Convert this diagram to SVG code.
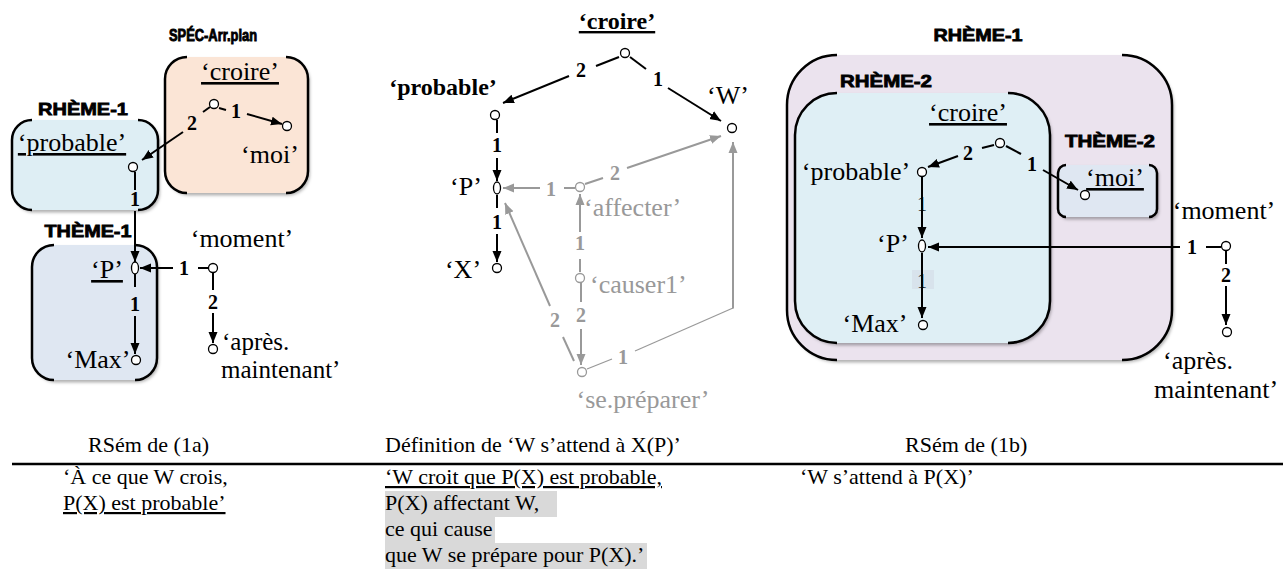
<svg xmlns="http://www.w3.org/2000/svg" width="1283" height="587" viewBox="0 0 1283 587">
  <style>
    .lbl { font-family: "Liberation Serif", "Times New Roman", serif; font-size: 26px; fill: #000; }
    .lblb { font-family: "Liberation Serif", "Times New Roman", serif; font-size: 24px; font-weight: bold; fill: #000; }
    .gl { font-family: "Liberation Serif", "Times New Roman", serif; font-size: 26px; fill: #999; }
    .num { font-family: "Liberation Serif", "Times New Roman", serif; font-size: 20px; font-weight: bold; fill: #000; text-anchor: middle; }
    .numr { font-family: "Liberation Serif", "Times New Roman", serif; font-size: 20px; fill: #000; text-anchor: middle; }
    .gnum { font-family: "Liberation Serif", "Times New Roman", serif; font-size: 20px; font-weight: bold; fill: #999; text-anchor: middle; }
    .tag { font-family: "Liberation Sans", Arial, sans-serif; font-size: 17px; font-weight: bold; fill: #000; stroke: #000; stroke-width: 0.8; text-anchor: middle; }
    .txt { font-family: "Liberation Serif", "Times New Roman", serif; font-size: 22px; fill: #000; }
    .u { text-decoration: underline; }
    .mid { text-anchor: middle; }
    .edge { fill: none; stroke: #000; stroke-width: 2; }
    .arr { fill: none; stroke: #000; stroke-width: 2; marker-end: url(#ah); }
    .gedge { fill: none; stroke: #999; stroke-width: 2; }
    .garr { fill: none; stroke: #999; stroke-width: 2; marker-end: url(#gah); }
    .thin { fill: none; stroke: #999; stroke-width: 1.2; }
    .node { fill: #fff; stroke: #000; stroke-width: 1.3; }
    .gnode { fill: #fff; stroke: #999; stroke-width: 1.3; }
    .frame { fill: none; stroke: #000; stroke-width: 2.5; }
    .hl { fill: #d9d9d9; }
  </style>
  <defs>
    <marker id="ah" markerUnits="userSpaceOnUse" markerWidth="12" markerHeight="10" refX="11" refY="5" orient="auto">
      <path d="M0,0.5 L11,5 L0,9.5 Z" fill="#000"/>
    </marker>
    <marker id="gah" markerUnits="userSpaceOnUse" markerWidth="12" markerHeight="10" refX="11" refY="5" orient="auto">
      <path d="M0,0.5 L11,5 L0,9.5 Z" fill="#999"/>
    </marker>
    <filter id="sh" x="-10%" y="-10%" width="125%" height="125%">
      <feDropShadow dx="2" dy="2.5" stdDeviation="1.8" flood-color="#000" flood-opacity="0.3"/>
    </filter>
  </defs>

  <!-- ===== Left: RSém de (1a) ===== -->
  <g id="box-spec">
    <rect x="165" y="57" width="143" height="136" rx="22" fill="#fbe5d6" filter="url(#sh)"/>
    <path class="frame" d="M187,57 A22,22 0 0 0 165,79 V171 A22,22 0 0 0 187,193 M286,57 A22,22 0 0 1 308,79 V171 A22,22 0 0 1 286,193"/>
    <text class="tag" x="213" y="41" style="font-size:16px;stroke-width:0.9" textLength="88" lengthAdjust="spacingAndGlyphs">SPÉC-Arr.plan</text>
  </g>
  <g id="box-rheme1-a">
    <rect x="12" y="120" width="146" height="90" rx="20" fill="#deeef4" filter="url(#sh)"/>
    <path class="frame" d="M32,120 A20,20 0 0 0 12,140 V190 A20,20 0 0 0 32,210 M138,120 A20,20 0 0 1 158,140 V190 A20,20 0 0 1 138,210"/>
    <text class="tag" x="83" y="115" textLength="90" lengthAdjust="spacingAndGlyphs">RHÈME-1</text>
  </g>
  <g id="box-theme1-a">
    <rect x="32" y="245" width="125" height="135" rx="22" fill="#dfe7f2" filter="url(#sh)"/>
    <path class="frame" d="M54,245 A22,22 0 0 0 32,267 V358 A22,22 0 0 0 54,380 M135,245 A22,22 0 0 1 157,267 V358 A22,22 0 0 1 135,380"/>
    <text class="tag" x="88" y="237" textLength="87" lengthAdjust="spacingAndGlyphs">THÈME-1</text>
  </g>

  <g id="connectors-a">
    <path class="edge" d="M210,107 L203,112"/>
    <text class="num" x="192" y="130">2</text>
    <path class="arr" d="M183,132 L142,160"/>
    <path class="edge" d="M219,108 L226,110"/>
    <text class="num" x="236" y="118">1</text>
    <path class="arr" d="M247,114 L282,124"/>
    <path class="edge" d="M135,172 L135,190"/>
    <text class="num" x="135" y="206">1</text>
    <path class="arr" d="M135,211 L135,262"/>
    <path class="edge" d="M208,268 L198,268"/>
    <text class="num" x="184" y="275">1</text>
    <path class="arr" d="M173,268 L140,268"/>
    <path class="edge" d="M213,273 L213,290"/>
    <text class="num" x="213" y="309">2</text>
    <path class="arr" d="M213,313 L213,343"/>
    <path class="edge" d="M135,274 L135,287"/>
    <text class="num" x="135" y="311">1</text>
    <path class="arr" d="M135,316 L135,354"/>
  </g>

  <g id="n-croire-a"><circle class="node" cx="214" cy="104" r="4.5"/><text class="lbl u mid" x="240" y="80">‘croire’</text></g>
  <g id="n-moi-a"><circle class="node" cx="287" cy="126" r="4.5"/><text class="lbl mid" x="270" y="163">‘moi’</text></g>
  <g id="n-probable-a"><circle class="node" cx="133" cy="167" r="4.5"/><text class="lbl u mid" x="72" y="151">‘probable’</text></g>
  <g id="n-P-a"><ellipse class="node" cx="135" cy="268" rx="3.5" ry="6"/><text class="lbl u mid" x="107" y="278">‘P’</text></g>
  <g id="n-Max-a"><circle class="node" cx="136" cy="360" r="4.5"/><text class="lbl mid" x="98" y="368">‘Max’</text></g>
  <g id="n-moment-a"><circle class="node" cx="213" cy="268" r="4.5"/><text class="lbl mid" x="242" y="247">‘moment’</text></g>
  <g id="n-apres-a"><circle class="node" cx="213" cy="349" r="4.5"/><text class="lbl" style="font-size:25px"><tspan x="222" y="350">‘après.</tspan><tspan x="221" y="378">maintenant’</tspan></text></g>

  <!-- ===== Middle: definition ===== -->
  <g id="connectors-def">
    <path class="edge" d="M619,57 L596,66"/>
    <text class="num" x="581" y="77">2</text>
    <path class="arr" d="M569,76 L503,103"/>
    <path class="edge" d="M630,57 L646,69"/>
    <text class="num" x="658" y="86">1</text>
    <path class="arr" d="M668,88 L721,121"/>
    <path class="edge" d="M497,120 L497,133"/>
    <text class="num" x="497" y="152">1</text>
    <path class="arr" d="M497,158 L497,181"/>
    <path class="edge" d="M497,195 L497,208"/>
    <text class="num" x="497" y="229">1</text>
    <path class="arr" d="M497,234 L497,262"/>

    <path class="gedge" d="M575,188 L564,188"/>
    <text class="gnum" x="551" y="196">1</text>
    <path class="garr" d="M540,188 L503,188"/>
    <path class="gedge" d="M585,184 L603,178"/>
    <text class="gnum" x="615" y="180">2</text>
    <path class="garr" d="M627,168 L721,136"/>
    <path class="gedge" d="M580,272 L580,259"/>
    <text class="gnum" x="580" y="250">1</text>
    <path class="garr" d="M580,232 L580,194"/>
    <path class="gedge" d="M581,283 L581,302"/>
    <text class="gnum" x="581" y="322">2</text>
    <path class="garr" d="M581,329 L581,365"/>
    <path class="gedge" d="M574,361 L563,337"/>
    <text class="gnum" x="555" y="327">2</text>
    <path class="garr" d="M550,306 L505,203"/>
    <path class="thin" d="M587,369 L612,359"/>
    <text class="gnum" x="623" y="364">1</text>
    <path class="thin" d="M635,351 L733,308"/>
    <path class="garr" d="M733,308.5 L733,142"/>
  </g>

  <g id="n-croire-d"><circle class="node" cx="625" cy="53" r="4.5"/><text class="lblb u mid" x="617" y="29">‘croire’</text></g>
  <g id="n-probable-d"><circle class="node" cx="495" cy="115" r="4.5"/><text class="lblb mid" x="443" y="95">‘probable’</text></g>
  <g id="n-W-d"><circle class="node" cx="732" cy="128" r="4.5"/><text class="lbl mid" x="728" y="104">‘W’</text></g>
  <g id="n-P-d"><ellipse class="node" cx="497" cy="188" rx="3.5" ry="6"/><text class="lbl mid" x="466" y="195">‘P’</text></g>
  <g id="n-X-d"><circle class="node" cx="497" cy="268" r="4.5"/><text class="lbl mid" x="463" y="278">‘X’</text></g>
  <g id="n-affecter"><circle class="gnode" cx="580" cy="187" r="4.5"/><text class="gl" x="584" y="216">‘affecter’</text></g>
  <g id="n-causer1"><circle class="gnode" cx="580" cy="278" r="4.5"/><text class="gl" x="590" y="293">‘causer1’</text></g>
  <g id="n-sepreparer"><circle class="gnode" cx="582" cy="372" r="4.5"/><text class="gl mid" x="643" y="408">‘se.préparer’</text></g>

  <!-- ===== Right: RSém de (1b) ===== -->
  <g id="box-rheme1-b">
    <rect x="787" y="55" width="385" height="305" rx="50" fill="#ebe3ee" filter="url(#sh)"/>
    <path class="frame" d="M837,55 A50,50 0 0 0 787,105 V310 A50,50 0 0 0 837,360 M1122,55 A50,50 0 0 1 1172,105 V310 A50,50 0 0 1 1122,360"/>
    <text class="tag" x="978" y="41" textLength="89" lengthAdjust="spacingAndGlyphs">RHÈME-1</text>
  </g>
  <g id="box-rheme2-b">
    <rect x="795" y="93" width="255" height="250" rx="42" fill="#dfeff5" filter="url(#sh)"/>
    <path class="frame" d="M837,93 A42,42 0 0 0 795,135 V301 A42,42 0 0 0 837,343 M1008,93 A42,42 0 0 1 1050,135 V301 A42,42 0 0 1 1008,343"/>
    <text class="tag" x="886" y="87" textLength="92" lengthAdjust="spacingAndGlyphs">RHÈME-2</text>
  </g>
  <g id="box-theme2-b">
    <rect x="1058" y="165" width="99" height="52" rx="8" fill="#dfe7f2" filter="url(#sh)"/>
    <path class="frame" d="M1066,165 A8,8 0 0 0 1058,173 V209 A8,8 0 0 0 1066,217 M1149,165 A8,8 0 0 1 1157,173 V209 A8,8 0 0 1 1149,217"/>
    <text class="tag" x="1110" y="147" textLength="90" lengthAdjust="spacingAndGlyphs">THÈME-2</text>
  </g>

  <g id="connectors-b">
    <path class="edge" d="M994,145 L982,148"/>
    <text class="num" x="968" y="160">2</text>
    <path class="arr" d="M958,156 L928,167"/>
    <path class="edge" d="M1006,146 L1021,154"/>
    <text class="num" x="1032" y="171">1</text>
    <path class="arr" d="M1043,170 L1078,190"/>
    <path class="arr" d="M922,177 L922,238"/>
    <text class="numr" x="922" y="211">1</text>
    <rect x="912" y="270" width="22" height="19" fill="#d6e0ea" opacity="0.8"/>
    <path class="arr" d="M922,253 L922,318"/>
    <text class="numr" x="922" y="288">1</text>
    <path class="edge" d="M1221,247 L1206,247"/>
    <text class="num" x="1192" y="254">1</text>
    <path class="arr" d="M1180,247 L928,247"/>
    <path class="edge" d="M1226,251 L1226,264"/>
    <text class="num" x="1226" y="282">2</text>
    <path class="arr" d="M1226,286 L1226,325"/>
  </g>

  <g id="n-croire-b"><circle class="node" cx="1000" cy="143" r="4.5"/><text class="lbl u mid" x="968" y="121">‘croire’</text></g>
  <g id="n-probable-b"><circle class="node" cx="922" cy="172" r="4.5"/><text class="lbl mid" x="856" y="180">‘probable’</text></g>
  <g id="n-moi-b"><circle class="node" cx="1085" cy="195" r="4.5"/><text class="lbl u mid" x="1115" y="186">‘moi’</text></g>
  <g id="n-P-b"><ellipse class="node" cx="922" cy="246" rx="3.5" ry="6"/><text class="lbl mid" x="893" y="252">‘P’</text></g>
  <g id="n-Max-b"><circle class="node" cx="923" cy="325" r="4.5"/><text class="lbl mid" x="875" y="332">‘Max’</text></g>
  <g id="n-moment-b"><circle class="node" cx="1226" cy="246" r="4.5"/><text class="lbl mid" x="1224" y="219">‘moment’</text></g>
  <g id="n-apres-b"><circle class="node" cx="1227" cy="332" r="4.5"/><text class="lbl mid"><tspan x="1198" y="369">‘après.</tspan><tspan x="1216" y="398">maintenant’</tspan></text></g>

  <!-- ===== Captions table ===== -->
  <g id="captions">
    <text class="txt" x="88" y="452">RSém de (1a)</text>
    <text class="txt" x="385" y="452">Définition de ‘W s’attend à X(P)’</text>
    <text class="txt" x="905" y="452">RSém de (1b)</text>
    <line x1="12" y1="464" x2="1283" y2="464" stroke="#000" stroke-width="2.5"/>
    <text class="txt" x="63" y="484">‘À ce que W crois,</text>
    <text class="txt u" x="63" y="510">P(X) est probable’</text>
    <rect class="hl" x="385" y="491" width="172" height="26"/>
    <rect class="hl" x="385" y="517" width="110" height="26"/>
    <rect class="hl" x="385" y="543" width="262" height="26"/>
    <text class="txt u" x="385" y="484">‘W croit que P(X) est probable,</text>
    <text class="txt" x="385" y="510">P(X) affectant W,</text>
    <text class="txt" x="385" y="536">ce qui cause</text>
    <text class="txt" x="385" y="562">que W se prépare pour P(X).’</text>
    <text class="txt" x="800" y="484">‘W s’attend à P(X)’</text>
  </g>
</svg>
